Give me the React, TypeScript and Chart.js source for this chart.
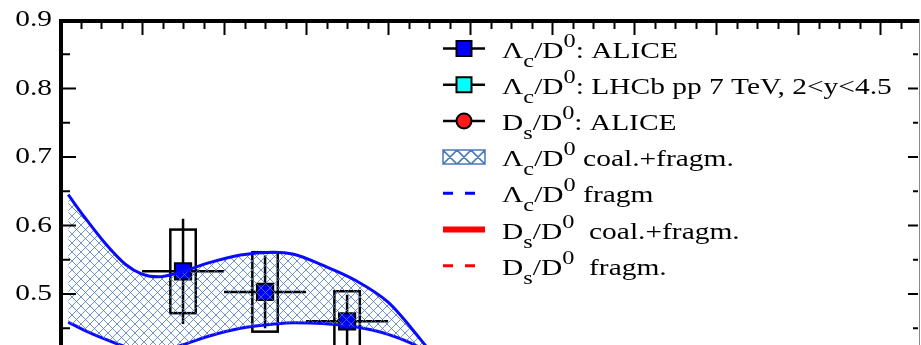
import React, { useEffect, useRef } from "react";
import { Chart, registerables } from "chart.js";
Chart.register(...registerables);

// ---- data ----
const bandX = [0.2, 0.6, 1.1, 1.6, 2.0, 2.4, 2.9, 3.6, 4.4, 5.2, 5.7, 6.4, 7.2, 8.0, 8.8, 9.3];
const bandUpper = [0.645, 0.612, 0.574, 0.543, 0.529, 0.525, 0.531, 0.545, 0.557, 0.561, 0.558, 0.542, 0.52, 0.488, 0.433, 0.395];
const bandLower = [0.459, 0.447, 0.434, 0.423, 0.418, 0.417, 0.424, 0.438, 0.45, 0.456, 0.458, 0.457, 0.452, 0.441, 0.421, 0.4];

const aliceX = [3, 5, 7];
const aliceY = [0.533, 0.503, 0.46];
const aliceBinHalf = [1, 1, 1];
const aliceStat = [0.077, 0.053, 0.039];
const aliceSys = [0.061, 0.058, 0.044];
const sysBoxHalfWidth = 0.31;

const yTickValues = [0.5, 0.6, 0.7, 0.8, 0.9];
const xMin = 0;
const xMax = 20.92;
const yMin = 0.4255;
const yMax = 0.9;

const legendSpecies = ["\u039B", "\u039B", "D", "\u039B", "\u039B", "D", "D"];
const legendSub = ["c", "c", "s", "c", "c", "s", "s"];
const legendSuffix = [
  ": ALICE",
  ": LHCb pp 7 TeV, 2<y<4.5",
  ": ALICE",
  " coal.+fragm.",
  " fragm",
  "  coal.+fragm.",
  "  fragm.",
];

const FONT = '"Liberation Serif", "Times New Roman", serif';
const STRETCH = 1.28;
const BAND_LINE = "#0a0aff";
const HATCH = "rgba(75,120,190,0.8)";

function makeHatch(ctx: CanvasRenderingContext2D, size: number, color: string) {
  const c = document.createElement("canvas");
  c.width = size;
  c.height = size;
  const g = c.getContext("2d")!;
  g.strokeStyle = color;
  g.lineWidth = 1;
  g.beginPath();
  for (let k = -1; k <= 1; k++) {
    g.moveTo(k * size, 0);
    g.lineTo(k * size + size, size);
    g.moveTo(k * size, size);
    g.lineTo(k * size + size, 0);
  }
  g.stroke();
  return ctx.createPattern(c, "repeat")!;
}

const errorBarsPlugin = {
  id: "errorBars",
  beforeDatasetsDraw(chart: any) {
    const { ctx, chartArea: a } = chart;
    const xs = chart.scales.x;
    const ys = chart.scales.y;
    ctx.save();
    ctx.beginPath();
    ctx.rect(a.left, a.top, a.right - a.left, a.bottom - a.top);
    ctx.clip();
    ctx.strokeStyle = "#000";
    ctx.lineWidth = 2.5;
    for (let i = 0; i < aliceX.length; i++) {
      const x = aliceX[i];
      const y = aliceY[i];
      const px = xs.getPixelForValue(x);
      const py = ys.getPixelForValue(y);
      ctx.beginPath();
      ctx.moveTo(xs.getPixelForValue(x - aliceBinHalf[i]), py);
      ctx.lineTo(xs.getPixelForValue(x + aliceBinHalf[i]), py);
      ctx.moveTo(px, ys.getPixelForValue(y + aliceStat[i]));
      ctx.lineTo(px, ys.getPixelForValue(y - aliceStat[i]));
      ctx.stroke();
      const bl = xs.getPixelForValue(x - sysBoxHalfWidth);
      const br = xs.getPixelForValue(x + sysBoxHalfWidth);
      const bt = ys.getPixelForValue(y + aliceSys[i]);
      const bb = ys.getPixelForValue(y - aliceSys[i]);
      ctx.strokeRect(bl, bt, br - bl, bb - bt);
    }
    ctx.restore();
  },
};

function drawRich(ctx: CanvasRenderingContext2D, i: number, x: number, base: number) {
  ctx.save();
  ctx.translate(x, 0);
  ctx.scale(STRETCH, 1);
  ctx.fillStyle = "#000";
  ctx.textAlign = "left";
  ctx.textBaseline = "alphabetic";
  const parts: [string, number, number][] = [
    [legendSpecies[i], 23, 0],
    [legendSub[i], 19, 9],
    ["/D", 23, 0],
    ["0", 19, -11],
    [legendSuffix[i], 23, 0],
  ];
  let cx = 0;
  for (const [t, size, dy] of parts) {
    ctx.font = `${size}px ${FONT}`;
    ctx.fillText(t, cx, base + dy);
    cx += ctx.measureText(t).width;
  }
  ctx.restore();
}

const framePlugin = {
  id: "frameLegend",
  afterDraw(chart: any) {
    const { ctx, chartArea: a } = chart;
    const xs = chart.scales.x;
    const ys = chart.scales.y;
    ctx.save();
    // frame
    ctx.strokeStyle = "#000";
    ctx.lineWidth = 4;
    ctx.beginPath();
    ctx.moveTo(a.left + 1, a.top - 1);
    ctx.lineTo(a.left + 1, chart.height);
    ctx.moveTo(a.left - 1, a.top + 1);
    ctx.lineTo(a.right + 1, a.top + 1);
    ctx.stroke();
    ctx.strokeStyle = "#8a8a8a";
    ctx.lineWidth = 1;
    ctx.beginPath();
    ctx.moveTo(a.right + 1.5, a.top - 1);
    ctx.lineTo(a.right + 1.5, chart.height);
    ctx.stroke();
    // top ticks
    ctx.strokeStyle = "#000";
    ctx.lineWidth = 2;
    ctx.beginPath();
    for (let k = 1; k * 0.5 < xMax; k++) {
      const v = k * 0.5;
      const px = Math.round(xs.getPixelForValue(v)) + 0.5;
      const major = k % 4 === 0;
      ctx.moveTo(px, a.top + 2);
      ctx.lineTo(px, a.top + (major ? 15 : 9));
    }
    // left/right ticks
    for (let k = 9; k <= 18; k++) {
      const v = k * 0.05;
      if (v < yMin) continue;
      const py = ys.getPixelForValue(v);
      const major = k % 2 === 0;
      ctx.moveTo(a.left + 2, py);
      ctx.lineTo(a.left + (major ? 16 : 10), py);
      ctx.moveTo(a.right, py);
      ctx.lineTo(a.right - (major ? 10 : 5), py);
    }
    ctx.stroke();

    // legend
    for (let i = 0; i < legendSuffix.length; i++) {
      const cy = 48.5 + i * 36.2;
      const x0 = 443;
      const x1 = 485;
      const xc = (x0 + x1) / 2;
      if (i <= 2) {
        ctx.strokeStyle = "#000";
        ctx.lineWidth = 2.5;
        ctx.setLineDash([]);
        ctx.beginPath();
        ctx.moveTo(x0, cy);
        ctx.lineTo(x1, cy);
        ctx.stroke();
        ctx.lineWidth = 2;
        ctx.fillStyle = i === 0 ? "#0000ff" : i === 1 ? "#00ffff" : "#ff1a1a";
        ctx.beginPath();
        if (i === 2) ctx.arc(xc, cy, 7.5, 0, Math.PI * 2);
        else ctx.rect(xc - 7.5, cy - 7.5, 15, 15);
        ctx.fill();
        ctx.stroke();
      } else if (i === 3) {
        ctx.strokeStyle = "#4a78b8";
        ctx.lineWidth = 1.5;
        ctx.setLineDash([]);
        const h0 = cy - 7;
        const h1 = cy + 7;
        ctx.beginPath();
        ctx.rect(x0, h0, x1 - x0, h1 - h0);
        for (let c = 0; c < 3; c++) {
          const cx0 = x0 + c * 14;
          ctx.moveTo(cx0, h0);
          ctx.lineTo(cx0 + 14, h1);
          ctx.moveTo(cx0, h1);
          ctx.lineTo(cx0 + 14, h0);
        }
        ctx.stroke();
      } else {
        ctx.strokeStyle = i === 4 ? "#0000ff" : "#ff0000";
        ctx.lineWidth = i === 5 ? 6 : 3;
        ctx.setLineDash(i === 5 ? [] : [10, 12]);
        ctx.beginPath();
        ctx.moveTo(x0, cy);
        ctx.lineTo(x1, cy);
        ctx.stroke();
        ctx.setLineDash([]);
      }
      drawRich(ctx, i, 502, cy + 9);
    }
    ctx.restore();
  },
};

export default function App() {
  const ref = useRef<HTMLCanvasElement | null>(null);
  useEffect(() => {
    const canvas = ref.current!;
    const ctx = canvas.getContext("2d")!;
    const pattern = makeHatch(ctx, 9, HATCH);
    const chart = new Chart(ctx, {
      type: "line",
      data: {
        datasets: [
          {
            label: "Lc/D0 coal.+fragm. upper",
            data: bandX.map((x, i) => ({ x, y: bandUpper[i] })),
            borderColor: BAND_LINE,
            borderWidth: 3,
            backgroundColor: pattern as any,
            fill: "+1",
            pointRadius: 0,
            cubicInterpolationMode: "monotone",
            order: 0,
          },
          {
            label: "Lc/D0 coal.+fragm. lower",
            data: bandX.map((x, i) => ({ x, y: bandLower[i] })),
            borderColor: BAND_LINE,
            borderWidth: 3,
            fill: false,
            pointRadius: 0,
            cubicInterpolationMode: "monotone",
            order: 0,
          },
          {
            label: "Lc/D0: ALICE",
            data: aliceX.map((x, i) => ({ x, y: aliceY[i] })),
            showLine: false,
            pointStyle: "rect",
            pointRadius: 11.5,
            pointBorderWidth: 2,
            pointBorderColor: "#000",
            pointBackgroundColor: "#0000ff",
            order: 1,
          },
        ],
      },
      options: {
        responsive: false,
        animation: false,
        devicePixelRatio: 1,
        events: [],
        layout: { autoPadding: false, padding: { top: 20, right: 3, bottom: 0, left: 0 } },
        plugins: { legend: { display: false }, tooltip: { enabled: false } },
        scales: {
          x: { type: "linear", min: xMin, max: xMax, display: false },
          y: {
            type: "linear",
            min: yMin,
            max: yMax,
            grid: { display: false, drawTicks: false },
            border: { display: false },
            ticks: {
              padding: 8,
              color: "#000",
              font: { family: FONT, size: 23 },
              callback: (v: any) => Number(v).toFixed(1),
            },
            afterBuildTicks: (scale: any) => {
              scale.ticks = yTickValues.map((v) => ({ value: v }));
            },
            afterFit: (scale: any) => {
              scale.width = 60;
              scale.paddingTop = 0;
              scale.paddingBottom = 0;
              if (!scale.__stretched) {
                scale.__stretched = true;
                const orig = scale.drawLabels.bind(scale);
                scale.drawLabels = (area: any) => {
                  const c = scale.ctx;
                  const ax = scale.right - 8;
                  c.save();
                  c.translate(ax, 0);
                  c.scale(STRETCH, 1);
                  c.translate(-ax, 0);
                  orig(area);
                  c.restore();
                };
              }
            },
          },
        },
      },
      plugins: [errorBarsPlugin, framePlugin],
    } as any);
    return () => chart.destroy();
  }, []);
  return (
    <div style={{ position: "absolute", left: 0, top: 0, width: 921, height: 345, background: "#fff" }}>
      <canvas ref={ref} width={921} height={345} style={{ display: "block", width: 921, height: 345 }} />
    </div>
  );
}
